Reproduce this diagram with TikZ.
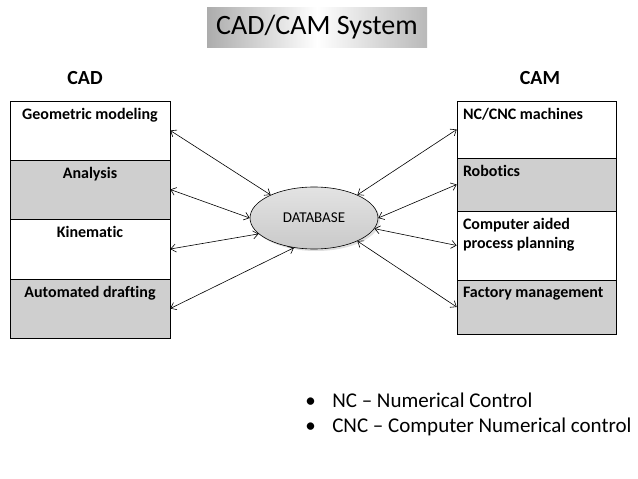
\documentclass[tikz,border=0pt]{standalone}
\usepackage{fontspec}
\setmainfont{Carlito}[Ligatures=NoCommon]
\usetikzlibrary{shapes.geometric,shadows,arrows.meta}
\begin{document}
\begin{tikzpicture}[
		x=1pt,y=-1pt,
		line width=0.6pt,
		>={Straight Barb[length=5pt,width=8pt]},
		cadcell/.style={draw,minimum width=160pt,inner sep=0pt},
		camcell/.style={draw,minimum width=159pt,inner sep=0pt},
		greyfill/.style={fill=gray!38},
		cadtext/.style={anchor=north,inner sep=0pt,yshift=-7.5pt,font=\bfseries\fontsize{16}{19}\selectfont},
		camtext/.style={anchor=north west,align=left,inner sep=0pt,xshift=6pt,yshift=-7.5pt,font=\bfseries\fontsize{16}{19}\selectfont},
		header/.style={font=\bfseries\fontsize{20}{24}\selectfont},
		bulletline/.style={anchor=base west,inner sep=0pt,font=\fontsize{21}{25}\selectfont}
	]
	\useasboundingbox[fill=white] (0,0) rectangle (638,479);
	\node[draw=none,minimum width=220pt,minimum height=40pt,left color=gray!65,right color=gray!55,middle color=white,font=\fontsize{28}{32}\selectfont] (title) at (317,27) {CAD/CAM System};
	\node[header] (cad) at (85,78) {CAD};
	\node[header] (cam) at (540,78) {CAM};
	\node[cadcell,minimum height=59pt,label={[cadtext]north:Geometric modeling}] (cad1) at (90,130.5) {};
	\node[cadcell,greyfill,minimum height=59pt,label={[cadtext]north:Analysis}] (cad2) at (90,189.5) {};
	\node[cadcell,minimum height=60pt,label={[cadtext]north:Kinematic}] (cad3) at (90,249) {};
	\node[cadcell,greyfill,minimum height=59pt,label={[cadtext]north:Automated drafting}] (cad4) at (90,308.5) {};
	\node[camcell,minimum height=57pt,label={[camtext]north west:NC/CNC machines}] (cam1) at (536.5,129.5) {};
	\node[camcell,greyfill,minimum height=53pt,label={[camtext]north west:Robotics}] (cam2) at (536.5,184.5) {};
	\node[camcell,minimum height=69pt,label={[camtext]north west:Computer aided\\process planning}] (cam3) at (536.5,245.5) {};
	\node[camcell,greyfill,minimum height=54pt,label={[camtext]north west:Factory management}] (cam4) at (536.5,307) {};
	\node[ellipse,draw,minimum width=128pt,minimum height=62pt,inner sep=0pt,top color=gray!22,bottom color=gray!42,drop shadow={opacity=0.25,shadow xshift=2pt,shadow yshift=-2pt},font=\fontsize{15}{18}\selectfont] (db) at (314,218) {DATABASE};
	\draw[<->] (cad1.east) -- (db.152);
	\draw[<->] (cad2.east) -- (db.180);
	\draw[<->] (cad3.east) -- (db.196);
	\draw[<->] (cad4.east) -- (db.236);
	\draw[<->] (cam1.west) -- (db.28);
	\draw[<->] (cam2.west) -- (db.0);
	\draw[<->] (cam3.west) -- (db.350);
	\draw[<->] (cam4.west) -- (db.332);
	\node[bulletline] (nc) at (305,407) {\makebox[27pt][l]{•}NC – Numerical Control};
	\node[bulletline] (cnc) at (305,432) {\makebox[27pt][l]{•}CNC – Computer Numerical control};
\end{tikzpicture}
\end{document}
